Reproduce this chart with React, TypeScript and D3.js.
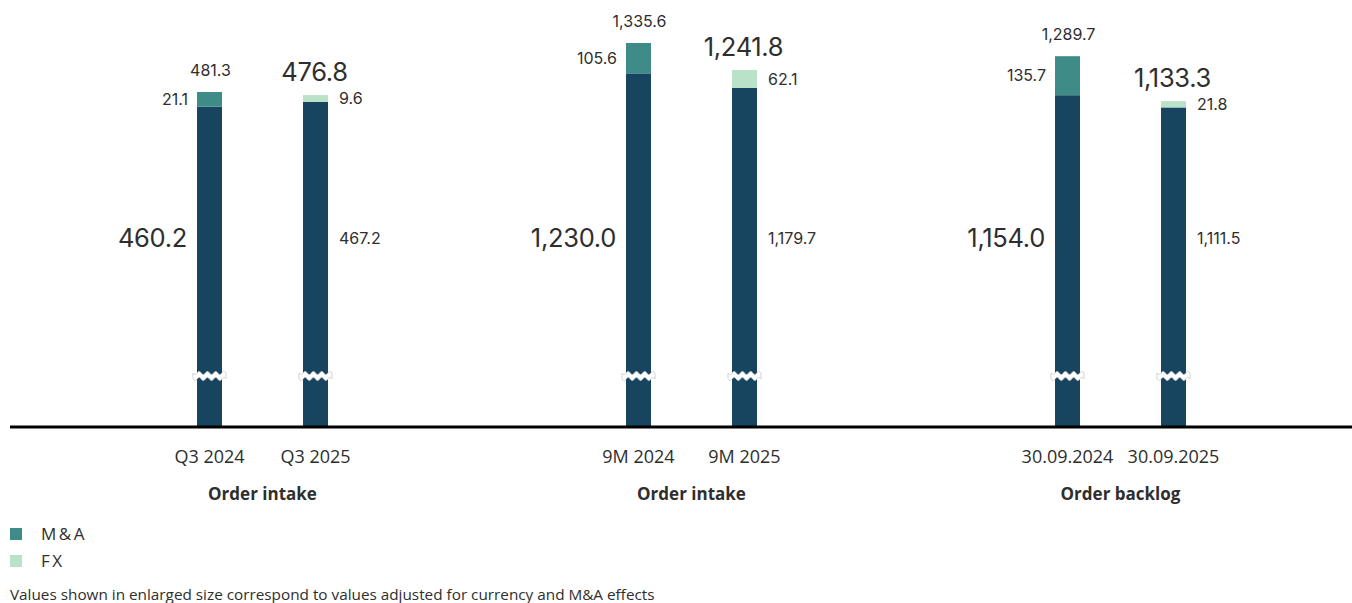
import React from "react";
import * as d3 from "d3";

const groups = ["Order intake Q3", "Order intake 9M", "Order backlog"];
const groupTitles = ["Order intake", "Order intake", "Order backlog"];
const periods = [
  ["Q3 2024", "Q3 2025"],
  ["9M 2024", "9M 2025"],
  ["30.09.2024", "30.09.2025"],
];
// base values (prior-year bar adjusted, current-year bar reported)
const baseValues = [
  [460.2, 467.2],
  [1230.0, 1179.7],
  [1154.0, 1111.5],
];
// M&A effect on prior-year bar, FX effect on current-year bar
const maValues = [21.1, 105.6, 135.7];
const fxValues = [9.6, 62.1, 21.8];
const totalLabels = [
  ["481.3", "476.8"],
  ["1,335.6", "1,241.8"],
  ["1,289.7", "1,133.3"],
];
const baseLabels = [
  ["460.2", "467.2"],
  ["1,230.0", "1,179.7"],
  ["1,154.0", "1,111.5"],
];
const effectLabels = [
  ["21.1", "9.6"],
  ["105.6", "62.1"],
  ["135.7", "21.8"],
];
// scale domain maxima per group (broken axis, individual scaling)
const scaleMax = [481.3, 1335.6, 1335.6];
const legendItems = ["M&A", "FX"];
const footnote = "Values shown in enlarged size correspond to values adjusted for currency and M&A effects";

const W = 1352;
const H = 603;
const BASE_Y = 427;
const BREAK_Y = 376;
const LABEL_MID_Y = 238;
const BAR_W = 25;
const COL_BASE = "#17455f";
const COL_MA = "#3f8b88";
const COL_FX = "#b9e2c8";
const TEXT = "#2e2e2e";
const NUM_FONT = "Inter, 'Liberation Sans', Arial, sans-serif";
const UI_FONT = "'Open Sans', 'Noto Sans', sans-serif";

const groupTopY = [92, 43, 43];

function breakPath(x0: number, x1: number, yc: number) {
  const amp = 1.6;
  const per = 4;
  const n = 40;
  const h = 3;
  const top: [number, number][] = [];
  const bot: [number, number][] = [];
  for (let i = 0; i <= n; i++) {
    const t = i / n;
    const x = x0 + (x1 - x0) * t;
    const y = yc + amp * Math.sin(t * per * 2 * Math.PI);
    top.push([x, y - h]);
    bot.push([x, y + h]);
  }
  const line = d3.line();
  return line([...top, ...bot.reverse()]) + "Z";
}

export default function App() {
  const xGroup = d3.scaleBand<string>().domain(groups).range([48, 1335]).padding(0);
  const xInner = d3.scalePoint<number>().domain([0, 1]).range([-53, 53]);

  const smallProps = {
    fontFamily: NUM_FONT,
    fontSize: 16,
    fill: TEXT,
  };
  const largeProps = {
    fontFamily: NUM_FONT,
    fontSize: 25.5,
    letterSpacing: -0.3,
    fill: TEXT,
  };

  return (
    <svg
      width={W}
      height={H}
      style={{ position: "absolute", left: 0, top: 0, background: "#fff" }}
    >
      {groups.map((g, gi) => {
        const cx = (xGroup(g) as number) + xGroup.bandwidth() / 2;
        const y = d3.scaleLinear().domain([0, scaleMax[gi]]).range([BASE_Y, groupTopY[gi]]);
        return (
          <g key={g}>
            {[0, 1].map((pi) => {
              const bx = cx + (xInner(pi) as number) - BAR_W / 2;
              const base = baseValues[gi][pi];
              const eff = pi === 0 ? maValues[gi] : fxValues[gi];
              const yBase = y(base);
              const yTop = y(base + eff);
              const totalLarge = pi === 1;
              const baseLarge = pi === 0;
              return (
                <g key={pi}>
                  <rect x={bx} y={yBase} width={BAR_W} height={BASE_Y - yBase} fill={COL_BASE} />
                  <rect
                    x={bx}
                    y={yTop}
                    width={BAR_W}
                    height={yBase - yTop}
                    fill={pi === 0 ? COL_MA : COL_FX}
                  />
                  <path
                    d={breakPath(bx - 4, bx + BAR_W + 4, BREAK_Y)}
                    fill="#fff"
                    stroke="#c8c8c8"
                    strokeWidth={0.8}
                  />
                  <text
                    x={bx + BAR_W / 2 + (totalLarge ? -1 : 1)}
                    y={yTop - (totalLarge ? 14 : 16)}
                    textAnchor="middle"
                    {...(totalLarge ? largeProps : smallProps)}
                  >
                    {totalLabels[gi][pi]}
                  </text>
                  <text
                    x={pi === 0 ? bx - 9 : bx + BAR_W + 11}
                    y={(yTop + yBase) / 2}
                    dy="0.36em"
                    textAnchor={pi === 0 ? "end" : "start"}
                    {...smallProps}
                  >
                    {effectLabels[gi][pi]}
                  </text>
                  <text
                    x={pi === 0 ? bx - 10 : bx + BAR_W + 11}
                    y={LABEL_MID_Y}
                    dy="0.36em"
                    textAnchor={pi === 0 ? "end" : "start"}
                    {...(baseLarge ? largeProps : smallProps)}
                  >
                    {baseLabels[gi][pi]}
                  </text>
                  <text
                    x={bx + BAR_W / 2}
                    y={463}
                    textAnchor="middle"
                    fontFamily={UI_FONT}
                    fontSize={18}
                    fill={TEXT}
                  >
                    {periods[gi][pi]}
                  </text>
                </g>
              );
            })}
            <text
              x={cx}
              y={500}
              textAnchor="middle"
              fontFamily={UI_FONT}
              fontWeight={700}
              fontSize={17}
              fill={TEXT}
            >
              {groupTitles[gi]}
            </text>
          </g>
        );
      })}
      <line x1={10} x2={W} y1={BASE_Y} y2={BASE_Y} stroke="#000" strokeWidth={3} />
      {legendItems.map((l, i) => (
        <g key={l}>
          <rect x={10} y={528 + i * 27} width={12} height={12} fill={i === 0 ? COL_MA : COL_FX} />
          <text
            x={41}
            y={534 + i * 27}
            dy="0.36em"
            fontFamily={UI_FONT}
            fontSize={17}
            letterSpacing={2.5}
            fill={TEXT}
          >
            {l}
          </text>
        </g>
      ))}
      <text x={10} y={600} fontFamily={UI_FONT} fontSize={15.3} fill={TEXT}>
        {footnote}
      </text>
    </svg>
  );
}
